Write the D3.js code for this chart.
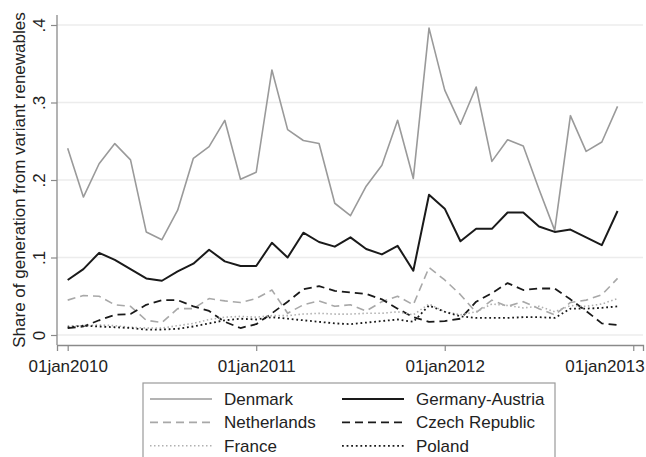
<!DOCTYPE html>
<html>
<head>
<meta charset="utf-8">
<script src="https://cdn.jsdelivr.net/npm/d3@7"></script>
<style>
  body { margin: 0; background: #fff; }
  svg { font-family: "Liberation Sans", Arial, sans-serif; }
</style>
</head>
<body>
<svg id="chart" width="646" height="457"></svg>
<script>
// monthly shares, jan 2010 .. dec 2012
let months = d3.range(36);
let xTickMonths = [0, 12, 24, 36];
let xTickLabels = ["01jan2010", "01jan2011", "01jan2012", "01jan2013"];
let yTicks = [0, 0.1, 0.2, 0.3, 0.4];

let denmark = [0.241,0.178,0.221,0.247,0.226,0.133,0.123,0.161,0.228,0.243,0.277,0.201,
               0.210,0.342,0.265,0.251,0.247,0.170,0.154,0.192,0.219,0.277,0.202,0.396,
               0.316,0.272,0.320,0.224,0.252,0.244,0.188,0.135,0.283,0.237,0.249,0.295];
let germanyAustria = [0.071,0.085,0.106,0.097,0.085,0.073,0.070,0.082,0.092,0.110,0.095,0.089,
               0.089,0.119,0.100,0.132,0.120,0.114,0.126,0.111,0.104,0.115,0.083,0.181,
               0.163,0.121,0.137,0.137,0.158,0.158,0.140,0.133,0.136,0.126,0.116,0.160];
let netherlands = [0.045,0.051,0.050,0.039,0.037,0.019,0.016,0.034,0.034,0.047,0.044,0.042,
               0.047,0.058,0.028,0.039,0.044,0.037,0.039,0.031,0.043,0.050,0.039,0.087,
               0.071,0.052,0.029,0.045,0.037,0.043,0.034,0.026,0.042,0.045,0.052,0.073];
let czech = [0.009,0.011,0.019,0.026,0.027,0.039,0.045,0.045,0.037,0.031,0.017,0.009,
               0.014,0.028,0.043,0.059,0.063,0.057,0.055,0.053,0.046,0.034,0.023,0.017,
               0.018,0.021,0.043,0.054,0.067,0.058,0.060,0.060,0.046,0.031,0.015,0.013];
let france = [0.012,0.012,0.013,0.012,0.010,0.009,0.009,0.012,0.015,0.020,0.023,0.024,
               0.023,0.025,0.025,0.027,0.028,0.027,0.027,0.028,0.028,0.030,0.026,0.040,
               0.030,0.026,0.030,0.040,0.038,0.035,0.037,0.030,0.038,0.037,0.040,0.047];
let poland = [0.010,0.012,0.011,0.010,0.009,0.007,0.007,0.008,0.011,0.015,0.019,0.021,
               0.020,0.023,0.021,0.019,0.017,0.015,0.014,0.016,0.018,0.020,0.017,0.038,
               0.030,0.024,0.022,0.022,0.022,0.023,0.023,0.022,0.034,0.034,0.035,0.037];

let series = [
  { name: "Denmark", values: denmark, color: "#9a9a9a", width: 1.6, dash: null },
  { name: "Germany-Austria", values: germanyAustria, color: "#1a1a1a", width: 2, dash: null },
  { name: "Netherlands", values: netherlands, color: "#a8a8a8", width: 1.6, dash: "8,5" },
  { name: "Czech Republic", values: czech, color: "#1a1a1a", width: 1.8, dash: "8,5" },
  { name: "France", values: france, color: "#b0b0b0", width: 1.6, dash: "1.5,2.5" },
  { name: "Poland", values: poland, color: "#1a1a1a", width: 1.8, dash: "1.8,2.8" }
];

let svg = d3.select("#chart");

let x = d3.scaleLinear().domain([-0.68, 36.62]).range([57, 643]);
let y = d3.scaleLinear().domain([0, 0.4]).range([335, 25]);

// grid
svg.append("g")
  .selectAll("line")
  .data(yTicks)
  .join("line")
  .attr("x1", x.range()[0]).attr("x2", x.range()[1])
  .attr("y1", d => y(d)).attr("y2", d => y(d))
  .attr("stroke", "#ececec").attr("stroke-width", 1.3);

// y axis
let yAxis = svg.append("g")
  .attr("transform", "translate(57,0)")
  .call(d3.axisLeft(y).tickValues(yTicks).tickSize(6)
    .tickFormat(d => d === 0 ? "0" : d3.format(".1f")(d).replace(/^0/, "")));
yAxis.select(".domain").remove();
yAxis.append("line")
  .attr("y1", 15).attr("y2", 345)
  .attr("stroke", "#8a8a8a").attr("stroke-width", 1.3);
yAxis.selectAll(".tick line").attr("stroke", "#8a8a8a").attr("stroke-width", 1.2);
yAxis.selectAll(".tick text")
  .attr("x", null).attr("dy", null)
  .attr("text-anchor", "middle")
  .attr("transform", "translate(-12,0) rotate(-90)")
  .attr("fill", "#222").attr("font-size", 17);

// x axis
let xAxis = svg.append("g")
  .attr("transform", "translate(0,345)")
  .call(d3.axisBottom(x).tickValues(xTickMonths).tickSize(6)
    .tickFormat((d, i) => xTickLabels[i]));
xAxis.select(".domain").attr("stroke", "#8a8a8a").attr("stroke-width", 1.3);
xAxis.selectAll(".tick line").attr("stroke", "#8a8a8a").attr("stroke-width", 1.2);
xAxis.selectAll(".tick text")
  .attr("y", 27).attr("dy", null)
  .attr("fill", "#222").attr("font-size", 17);
// last label pulled inside the frame, like stata does
xAxis.selectAll(".tick text")
  .filter(d => d === xTickMonths[xTickMonths.length - 1])
  .attr("text-anchor", "end")
  .attr("x", 11);

// y title
svg.append("text")
  .attr("transform", "translate(25,180) rotate(-90)")
  .attr("text-anchor", "middle")
  .attr("font-size", 17)
  .attr("fill", "#222")
  .text("Share of generation from variant renewables");

// lines
let line = d3.line()
  .x((d, i) => x(months[i]))
  .y(d => y(d));

svg.append("g")
  .selectAll("path")
  .data(series)
  .join("path")
  .attr("fill", "none")
  .attr("stroke", d => d.color)
  .attr("stroke-width", d => d.width)
  .attr("stroke-dasharray", d => d.dash)
  .attr("stroke-linejoin", "round")
  .attr("d", d => line(d.values));

// legend
let legend = svg.append("g");
legend.append("rect")
  .attr("x", 143).attr("y", 383)
  .attr("width", 412).attr("height", 90)
  .attr("fill", "#fff")
  .attr("stroke", "#9a9a9a").attr("stroke-width", 1.2);

let items = legend.selectAll("g.item")
  .data(series)
  .join("g")
  .attr("class", "item")
  .attr("transform", (d, i) => "translate(" + (i % 2 === 0 ? 150 : 342) + "," + (399 + Math.floor(i / 2) * 23.4) + ")");

items.append("line")
  .attr("x1", 0).attr("x2", 62)
  .attr("stroke", d => d.color)
  .attr("stroke-width", d => d.width)
  .attr("stroke-dasharray", d => d.dash);

items.append("text")
  .attr("x", 74)
  .attr("y", 6)
  .attr("font-size", 17)
  .attr("fill", "#222")
  .text(d => d.name);
</script>
</body>
</html>
